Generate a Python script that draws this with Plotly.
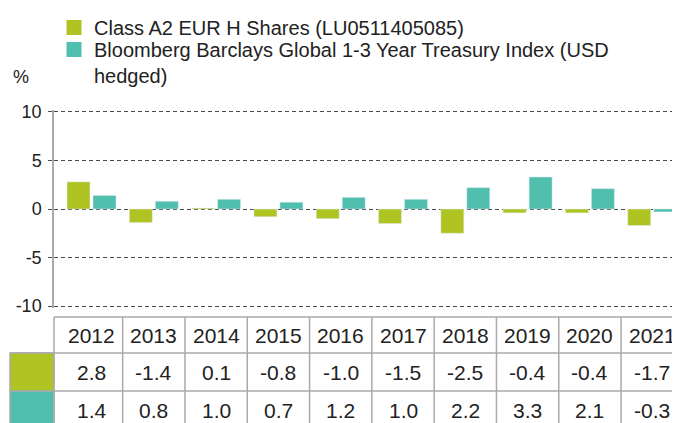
import plotly.graph_objects as go

years = ["2012", "2013", "2014", "2015", "2016", "2017", "2018", "2019", "2020", "2021"]
fund = [2.8, -1.4, 0.1, -0.8, -1.0, -1.5, -2.5, -0.4, -0.4, -1.7]
index = [1.4, 0.8, 1.0, 0.7, 1.2, 1.0, 2.2, 3.3, 2.1, -0.3]
fund_name = "Class A2 EUR H Shares (LU0511405085)"
index_name = "Bloomberg Barclays Global 1-3 Year Treasury Index (USD<br>hedged)"
y_ticks = [-10, -5, 0, 5, 10]

GREEN = "#afc323"
TEAL = "#50bfae"
GRID = "#4a4a4a"
BORDER = "#aaaaaa"
TXT = "#222222"
FONT = "Liberation Sans, Arial, sans-serif"

# the page body has an 8px margin, so the figure is drawn 8px right/down
OFF = 8
W, H = 680 - OFF, 423 - OFF
L = 54 - OFF          # left margin (fig px)
T = 102               # top margin (fig px)
BOT = 300             # bottom of plot area (fig px)
PW = W - L
PH = BOT - T


def py(p):  # page y -> paper
    return (BOT - (p - OFF)) / PH


def px(p):  # page x -> paper
    return (p - OFF - L) / PW


fig = go.Figure()
fig.add_trace(go.Bar(x=years, y=fund, marker_color=GREEN, width=0.369, offset=-0.393,
                     showlegend=False, hoverinfo="x+y"))
fig.add_trace(go.Bar(x=years, y=index, marker_color=TEAL, width=0.369, offset=0.024,
                     showlegend=False, hoverinfo="x+y"))
# legend proxies
fig.add_trace(go.Scatter(x=[None], y=[None], mode="markers", name=fund_name, legend="legend",
                         marker=dict(symbol="square", size=15, color=GREEN)))
fig.add_trace(go.Scatter(x=[None], y=[None], mode="markers", name=index_name, legend="legend2",
                         marker=dict(symbol="square", size=15, color=TEAL)))

shapes = []
ann = []
# table geometry (page pixels)
top, r1, r2, r3 = 317, 353, 391, 429
line = dict(color=BORDER, width=1.5)
shapes.append(dict(type="line", xref="paper", yref="paper", x0=0, x1=1.02, y0=py(top), y1=py(top), line=line))
for yy in (r1, r2, r3):
    shapes.append(dict(type="line", xref="paper", yref="paper", x0=px(10), x1=1.02, y0=py(yy), y1=py(yy), line=line))
shapes.append(dict(type="rect", xref="paper", yref="paper", x0=px(10), x1=px(54), y0=py(r1), y1=py(r2),
                   fillcolor=GREEN, line=line))
shapes.append(dict(type="rect", xref="paper", yref="paper", x0=px(10), x1=px(54), y0=py(r2), y1=py(r3),
                   fillcolor=TEAL, line=line))
shapes.append(dict(type="line", xref="paper", yref="paper", x0=0, x1=0, y0=py(top), y1=py(r3), line=line))
for i in range(len(years) - 1):
    shapes.append(dict(type="line", xref="x", yref="paper", x0=i + 0.5, x1=i + 0.5,
                       y0=py(top), y1=py(r3), line=line))

tfont = dict(family=FONT, size=21, color=TXT)
for i, yr in enumerate(years):
    for txt, yc in ((yr, (top + r1) / 2), (f"{fund[i]:.1f}", (r1 + r2) / 2), (f"{index[i]:.1f}", (r2 + r3) / 2)):
        ann.append(dict(x=i, xref="x", y=py(yc), yref="paper", text=txt, showarrow=False,
                        font=tfont, xanchor="center", yanchor="middle"))
ann.append(dict(x=px(21), xref="paper", y=py(77), yref="paper", text="%", showarrow=False,
                font=dict(family=FONT, size=18, color=TXT), xanchor="center", yanchor="middle"))

lfont = dict(family=FONT, size=20, color=TXT)
fig.update_layout(
    width=W, height=H,
    margin=dict(l=L, r=0, t=T, b=H - BOT, pad=0, autoexpand=False),
    paper_bgcolor="white", plot_bgcolor="white",
    font=dict(family=FONT, color=TXT),
    shapes=shapes,
    annotations=ann,
    legend=dict(x=46 / W, xref="container", xanchor="left", y=1 + 3 / H, yref="container", yanchor="top",
                font=lfont, valign="top", bgcolor="rgba(0,0,0,0)", itemclick=False),
    legend2=dict(x=46 / W, xref="container", xanchor="left", y=1 - 22 / H, yref="container", yanchor="top",
                 font=lfont, valign="top", bgcolor="rgba(0,0,0,0)", itemclick=False),
    xaxis=dict(type="category", range=[-0.602, 9.446], showticklabels=False, showgrid=False, zeroline=False,
               showline=False, ticks="", fixedrange=True),
    yaxis=dict(range=[-10.2, 10.2], tickvals=y_ticks, ticktext=[str(v) for v in y_ticks],
               showgrid=True, gridcolor=GRID, gridwidth=1, griddash="4px,3px",
               zeroline=False, showline=True, linecolor=BORDER, linewidth=1.5,
               ticks="outside", ticklen=4, tickcolor=GRID, tickwidth=1,
               tickfont=dict(family=FONT, size=18, color=TXT), ticklabelstandoff=3, fixedrange=True),
)

fig.write_html("out.html", config={"displayModeBar": False})
